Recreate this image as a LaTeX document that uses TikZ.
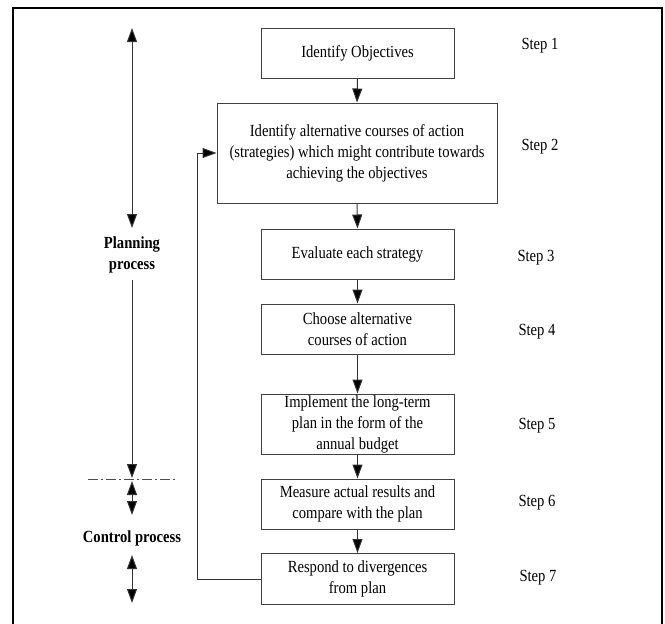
\documentclass[tikz,border=0pt]{standalone}
\usepackage{fontspec}
\setmainfont{Liberation Serif}[FakeStretch=0.86]
\usetikzlibrary{arrows.meta}
\begin{document}
\begin{tikzpicture}[x=1pt,y=-1pt,
  stepbox/.style={draw=black!75,line width=1pt,fill=white,align=center,
    inner sep=0pt,font=\fontsize{17}{21}\selectfont},
  steplabel/.style={font=\fontsize{17}{21}\selectfont,inner sep=0pt},
  proclabel/.style={font=\fontsize{17}{21}\selectfont\bfseries,align=center,inner sep=0pt},
  tip/.style={Triangle[length=14pt,width=10pt,fill=black]},
  arr/.style={line width=1pt,draw=black!80,-{Triangle[length=14pt,width=10pt,fill=black]}},
  darr/.style={line width=1pt,draw=black!80,{Triangle[length=14pt,width=10pt,fill=black]}-{Triangle[length=14pt,width=10pt,fill=black]}},
  ln/.style={line width=1pt,draw=black!80}]
\useasboundingbox (0,0) rectangle (665,624);
% outer frame (bottom edge outside picture)
\draw[line width=1.8pt] (13,640) -- (13,8) -- (662,8) -- (662,640);

% boxes
\node[stepbox,minimum width=193pt,minimum height=50pt] (b1) at (357.5,53) {Identify Objectives};
\node[stepbox,minimum width=280pt,minimum height=100pt] (b2) at (357,153)
  {Identify alternative courses of action\\(strategies) which might contribute towards\\achieving the objectives};
\node[stepbox,minimum width=193pt,minimum height=50pt] (b3) at (357.5,254) {Evaluate each strategy};
\node[stepbox,minimum width=193pt,minimum height=50pt] (b4) at (357.5,329) {Choose alternative\\courses of action};
\node[stepbox,minimum width=193pt,minimum height=60pt] (b5) at (357.5,424) {Implement the long-term\\plan in the form of the\\annual budget};
\node[stepbox,minimum width=193pt,minimum height=50pt] (b6) at (357.5,504) {Measure actual results and\\compare with the plan};
\node[stepbox,minimum width=193pt,minimum height=51pt] (b7) at (357.5,579) {Respond to divergences\\from plan};

% step labels
\node[steplabel] (s1) at (540,46) {Step 1};
\node[steplabel] (s2) at (540,147) {Step 2};
\node[steplabel] (s3) at (536,258) {Step 3};
\node[steplabel] (s4) at (537,332) {Step 4};
\node[steplabel] (s5) at (537,426) {Step 5};
\node[steplabel] (s6) at (537,503) {Step 6};
\node[steplabel] (s7) at (538,578) {Step 7};

% flow arrows
\draw[arr] (b1.south) -- (b2.north);
\draw[arr] (b2.south) -- (b3.north);
\draw[arr] (b3.south) -- (b4.north);
\draw[arr] (b4.south) -- (b5.north);
\draw[arr] (b5.south) -- (b6.north);
\draw[arr] (b6.south) -- (b7.north);
% feedback loop
\coordinate (fb) at (197,579);
\draw[arr] (b7.west) -- (fb) |- (b2.west);

% left column
\coordinate (p1) at (132,28);
\coordinate (p2) at (132,228);
\draw[darr] (p1) -- (p2);
\node[proclabel] (pp) at (132,255) {Planning\\process};
\coordinate (p3) at (132,280);
\coordinate (p4) at (132,478);
\draw[arr] (p3) -- (p4);
\coordinate (d1) at (88,479);
\coordinate (d2) at (175,479);
\draw[line width=1pt,draw=black!70,dash pattern=on 10pt off 3pt on 2pt off 3pt] (d1) -- (d2);
\coordinate (c1) at (132,481);
\coordinate (c2) at (132,515);
\draw[darr] (c1) -- (c2);
\node[proclabel] (cp) at (132,538) {Control process};
\coordinate (c3) at (132,555);
\coordinate (c4) at (132,603);
\draw[darr] (c3) -- (c4);
\end{tikzpicture}
\end{document}
